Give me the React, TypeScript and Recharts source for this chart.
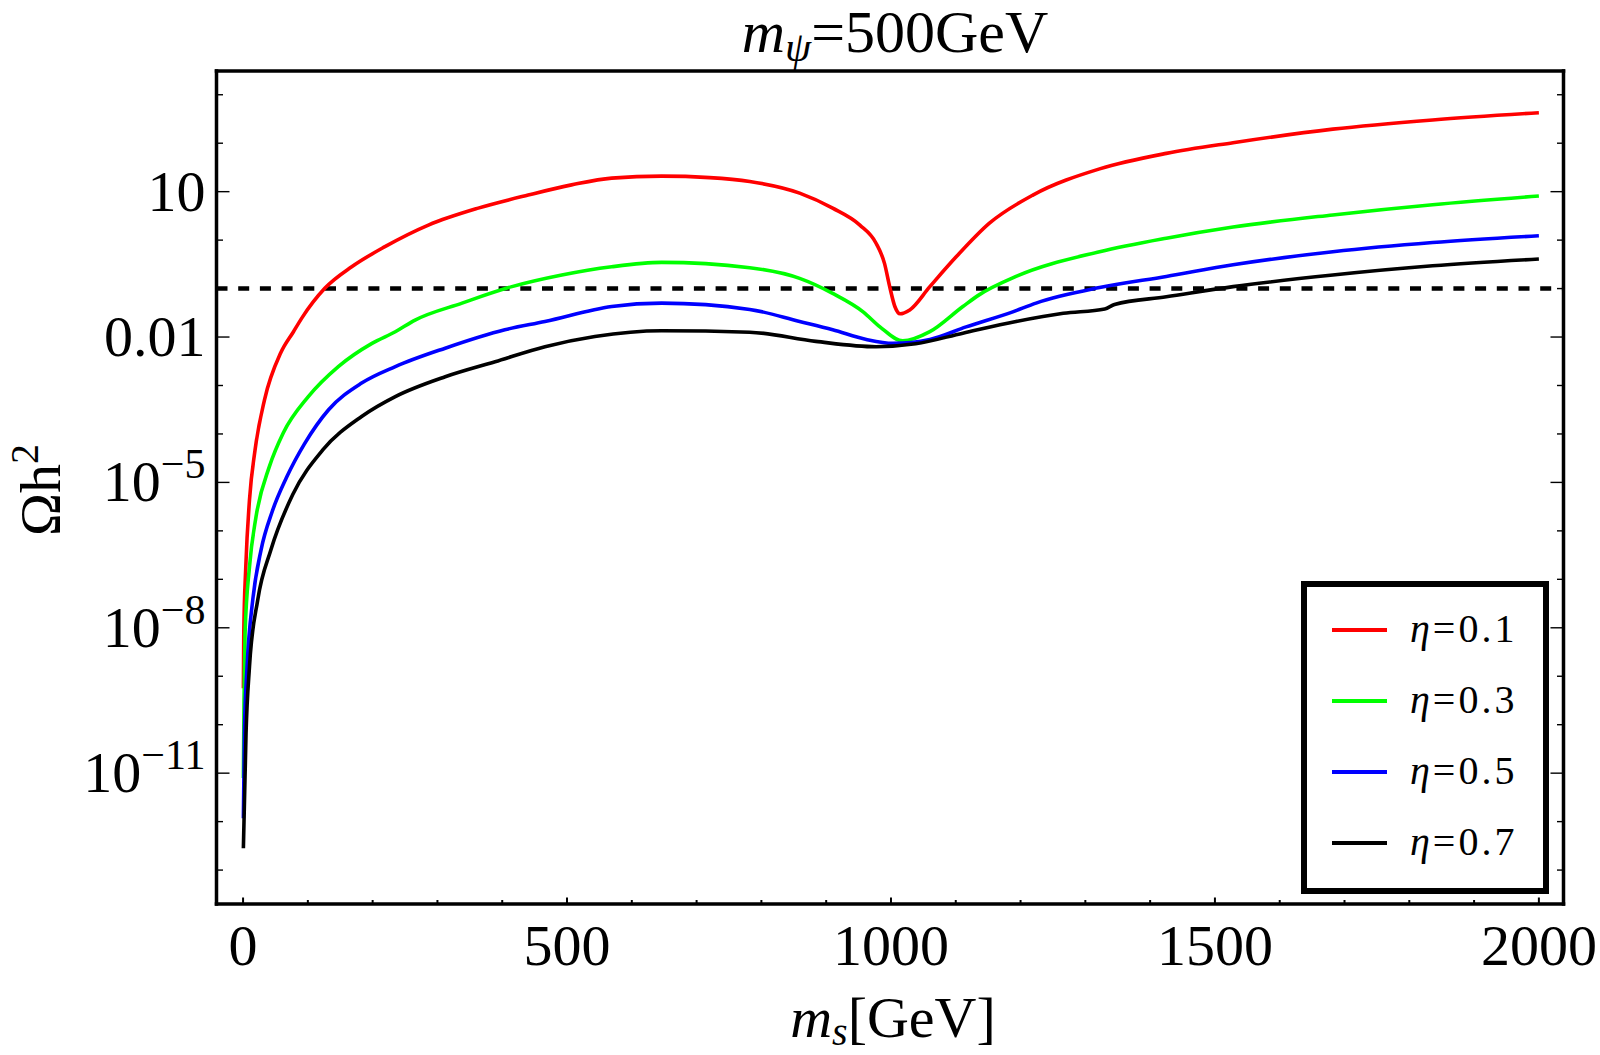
import { LineChart, Line, XAxis, YAxis, ReferenceLine, Legend } from "recharts";

const SERIF = '"Liberation Serif", "Times New Roman", serif';

// [m_s in GeV, log10(Omega h^2)]
const ETA_01: [number, number][] = [
  [0.5, -9.25], [1.1, -8.11], [4.2, -6.74], [9.9, -5.36], [18.5, -4.33], [33, -3.3], [58, -2.33],
  [77.8, -1.89], [90.6, -1.61], [126.5, -0.99], [167.7, -0.55], [219, -0.135],
  [286, 0.31], [363, 0.66], [440, 0.93], [507, 1.14], [569, 1.28], [646, 1.32], [720, 1.29],
  [782, 1.21], [859, 0.97], [910, 0.66], [952, 0.31], [977, -0.065], [990, -0.48], [998, -0.96],
  [1006, -1.37], [1014, -1.52], [1029, -1.44], [1060, -0.96], [1101, -0.34], [1152, 0.35],
  [1219, 0.93], [1322, 1.47], [1425, 1.79], [1528, 2.01], [1682, 2.29], [1836, 2.48], [2000, 2.63],
];

const ETA_03: [number, number][] = [
  [0.5, -11.1], [1.5, -9.49], [3.1, -8.11], [9.9, -6.74], [20, -5.71], [40.7, -4.67], [62, -3.98],
  [100.7, -3.23], [147, -2.61], [199, -2.13], [235, -1.89], [265.5, -1.65], [338, -1.3],
  [415, -0.96], [492, -0.72], [569, -0.55], [646, -0.46], [782, -0.57], [859, -0.79],
  [910, -1.1], [957, -1.48], [983, -1.79], [1018, -2.08], [1060, -1.89], [1111, -1.37],
  [1136, -1.13], [1193, -0.75], [1322, -0.24], [1425, 0.04], [1528, 0.27], [1682, 0.52],
  [1836, 0.73], [2000, 0.91],
];

const ETA_05: [number, number][] = [
  [0.5, -11.93], [2.1, -10.17], [6.2, -8.8], [15, -7.42], [27.8, -6.39], [45, -5.6], [67, -4.9],
  [95, -4.2], [132, -3.5], [183, -2.95], [235, -2.61], [312, -2.23], [404, -1.85], [466, -1.68],
  [569, -1.37], [646, -1.3], [782, -1.43], [859, -1.68], [910, -1.85], [962, -2.05], [1003, -2.13],
  [1060, -2.05], [1116, -1.79], [1188, -1.48], [1224, -1.3], [1322, -0.98], [1425, -0.75],
  [1528, -0.51], [1682, -0.24], [1836, -0.05], [2000, 0.09],
];

const ETA_07: [number, number][] = [
  [0.5, -12.55], [4.6, -10.17], [9.9, -8.8], [22.7, -7.42], [43, -6.39], [76.7, -5.25], [123, -4.33],
  [183, -3.64], [235, -3.23], [312, -2.82], [389, -2.51], [466, -2.2], [543, -1.99],
  [646, -1.87], [782, -1.9], [884, -2.09], [977, -2.2], [1038, -2.14], [1111, -1.92],
  [1193, -1.68], [1266, -1.51], [1330, -1.42], [1345, -1.33], [1425, -1.17], [1528, -0.96],
  [1682, -0.72], [1836, -0.53], [2000, -0.39],
];

const SERIES = [
  { name: "η=0.1", color: "#ff0000", points: ETA_01 },
  { name: "η=0.3", color: "#00ff00", points: ETA_03 },
  { name: "η=0.5", color: "#0000ff", points: ETA_05 },
  { name: "η=0.7", color: "#000000", points: ETA_07 },
];

const RELIC = 0.1;

const X_DOMAIN = [-41, 2038];
const Y_DOMAIN = [Math.pow(10, -13.7), Math.pow(10, 3.49)];

const X_TICKS = [0, 100, 200, 300, 400, 500, 600, 700, 800, 900, 1000, 1100, 1200, 1300, 1400, 1500, 1600, 1700, 1800, 1900, 2000];
const X_LABELS = [0, 500, 1000, 1500, 2000];

const Y_TICKS = [1e-13, 1e-12, 1e-11, 1e-10, 1e-9, 1e-8, 1e-7, 1e-6, 1e-5, 1e-4, 1e-3, 1e-2, 1e-1, 1, 10, 100, 1000];
const Y_LABELS = [
  { v: 10, base: "10", exp: "" },
  { v: 0.01, base: "0.01", exp: "" },
  { v: 1e-5, base: "10", exp: "−5" },
  { v: 1e-8, base: "10", exp: "−8" },
  { v: 1e-11, base: "10", exp: "−11" },
];

const yLabel = (v: number) => Y_LABELS.find((l) => Math.abs(Math.log10(l.v) - Math.log10(v)) < 1e-6);
const xMajor = (v: number) => X_LABELS.includes(v);

function BottomTick({ x, y, payload }: any) {
  const major = xMajor(payload.value);
  return (
    <g>
      <line x1={x} x2={x} y1={y} y2={y - (major ? 6.5 : 4)} stroke="#000" strokeWidth={2} />
      {major && (
        <text x={x} y={y + 61} textAnchor="middle" fontFamily={SERIF} fontSize={58} fill="#000">
          {payload.value}
        </text>
      )}
    </g>
  );
}

function TopTick({ x, y, payload }: any) {
  const major = xMajor(payload.value);
  return <line x1={x} x2={x} y1={y} y2={y + (major ? 6.5 : 4)} stroke="#000" strokeWidth={2} />;
}

function LeftTick({ x, y, payload }: any) {
  const lab = yLabel(payload.value);
  return (
    <g>
      <line x1={x} x2={x + (lab ? 13 : 6.5)} y1={y} y2={y} stroke="#000" strokeWidth={1.4} />
      {lab && (
        <text x={x - 11} y={y + 19} textAnchor="end" fontFamily={SERIF} fontSize={58} fill="#000">
          {lab.base}
          {lab.exp && (
            <tspan fontSize={42} dy={-23}>
              {lab.exp}
            </tspan>
          )}
        </text>
      )}
    </g>
  );
}

function RightTick({ x, y, payload }: any) {
  const lab = yLabel(payload.value);
  return <line x1={x} x2={x - (lab ? 13 : 6.5)} y1={y} y2={y} stroke="#000" strokeWidth={1.4} />;
}

const Title = () => (
  <text x={895} y={52} textAnchor="middle" fontFamily={SERIF} fontSize={60} fill="#000">
    <tspan fontStyle="italic">m</tspan>
    <tspan fontStyle="italic" fontSize={42} dy={9}>ψ</tspan>
    <tspan dy={-9}>=500GeV</tspan>
  </text>
);

const XTitle = () => (
  <text x={893} y={1037} textAnchor="middle" fontFamily={SERIF} fontSize={58} fill="#000">
    <tspan fontStyle="italic">m</tspan>
    <tspan fontStyle="italic" fontSize={40} dy={8}>s</tspan>
    <tspan dy={-8}>[GeV]</tspan>
  </text>
);

const YTitle = () => (
  <text transform="translate(60,490) rotate(-90)" textAnchor="middle" fontFamily={SERIF} fontSize={58} fill="#000">
    Ωh
    <tspan fontSize={40} dy={-22}>2</tspan>
  </text>
);

function LegendBox({ payload }: any) {
  return (
    <svg width={248} height={313} style={{ display: "block" }}>
      <rect x={3} y={3} width={242} height={307} fill="#fff" stroke="#000" strokeWidth={6} />
      {(payload || []).map((p: any, i: number) => {
        const cy = 49 + i * 71;
        const label = String(p.value);
        return (
          <g key={label}>
            <line x1={31} x2={86} y1={cy} y2={cy} stroke={p.color} strokeWidth={4} />
            <text x={109} y={cy + 12} fontFamily={SERIF} fontSize={40} letterSpacing={3} fill="#000">
              <tspan fontStyle="italic">{label.slice(0, 1)}</tspan>
              {label.slice(1)}
            </text>
          </g>
        );
      })}
    </svg>
  );
}

const frame = { stroke: "#000", strokeWidth: 3.5, strokeLinecap: "square" as const };

export default function App() {
  return (
    <div style={{ position: "absolute", left: 0, top: 0, width: 1600, height: 1055, background: "#fff" }}>
      <LineChart width={1600} height={1055} margin={{ top: 61, right: 26.5, bottom: 91, left: 116.5 }}>
        <XAxis
          xAxisId="b"
          dataKey="x"
          type="number"
          domain={X_DOMAIN}
          allowDataOverflow
          ticks={X_TICKS}
          interval={0}
          tickSize={0}
          tickMargin={0}
          tick={<BottomTick />}
          axisLine={frame}
          height={60}
          label={<XTitle />}
        />
        <XAxis
          xAxisId="t"
          orientation="top"
          type="number"
          domain={X_DOMAIN}
          allowDataOverflow
          ticks={X_TICKS}
          interval={0}
          tickSize={0}
          tickMargin={0}
          tick={<TopTick />}
          axisLine={frame}
          height={10}
          label={<Title />}
        />
        <YAxis
          yAxisId="l"
          type="number"
          scale="log"
          domain={Y_DOMAIN}
          allowDataOverflow
          ticks={Y_TICKS}
          interval={0}
          tickSize={0}
          tickMargin={0}
          tick={<LeftTick />}
          axisLine={frame}
          width={100}
          label={<YTitle />}
        />
        <YAxis
          yAxisId="r"
          orientation="right"
          type="number"
          scale="log"
          domain={Y_DOMAIN}
          allowDataOverflow
          ticks={Y_TICKS}
          interval={0}
          tickSize={0}
          tickMargin={0}
          tick={<RightTick />}
          axisLine={frame}
          width={10}
        />
        <ReferenceLine
          xAxisId="b"
          yAxisId="l"
          y={RELIC}
          stroke="#000"
          strokeWidth={4.5}
          strokeDasharray="11 10.7"
        />
        {SERIES.map((s) => (
          <Line
            key={s.name}
            xAxisId="b"
            yAxisId="l"
            name={s.name}
            data={s.points.map(([x, e]) => ({ x, y: Math.pow(10, e) }))}
            dataKey="y"
            type="monotone"
            stroke={s.color}
            strokeWidth={3.6}
            dot={false}
            activeDot={false}
            isAnimationActive={false}
          />
        ))}
        <Legend
          layout="vertical"
          align="center"
          verticalAlign="middle"
          width={248}
          height={313}
          content={<LegendBox />}
          wrapperStyle={{ left: 1301, top: 581, width: 248, height: 313 }}
        />
      </LineChart>
    </div>
  );
}
